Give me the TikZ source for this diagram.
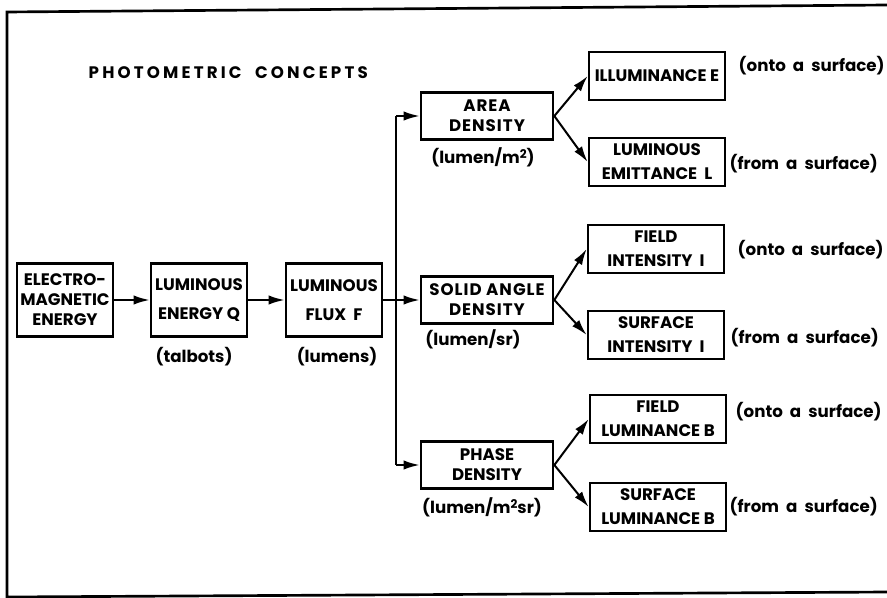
\documentclass[tikz,border=0pt]{standalone}
\usepackage{fontspec}
\setsansfont{Poppins}
\usetikzlibrary{arrows.meta, positioning, calc}

\newcommand{\sqd}{\raisebox{0.55ex}{\fontsize{9}{9}\selectfont 2}}

\begin{document}
\begin{tikzpicture}[
    x=0.75pt, y=-0.75pt,
    txt/.style={font=\sffamily\bfseries\fontsize{12.5}{15}\selectfont},
    block/.style={draw=black, line width=2pt, align=center, inner sep=1pt, txt},
    srcbox/.style={block, minimum width=72pt, minimum height=55pt},
    midbox/.style={block, minimum width=99pt, minimum height=35pt},
    endbox/.style={block, minimum width=102pt, minimum height=36pt},
    unit/.style={txt},
    note/.style={txt, anchor=west},
    wire/.style={line width=1.5pt},
    arr/.style={wire, -{Latex[length=12pt, width=7pt]}},
    frame/.style={line width=2pt}
]
\useasboundingbox (0,0) rectangle (887,598);

% Outer frame
\draw[frame] (887,5) -- (7,12) -- (7,597) -- (887,592);

\node[txt, anchor=west] (title) at (84,73) {\addfontfeatures{LetterSpace=19}PHOTOMETRIC\ \ CONCEPTS};

% Left: energy to flux
\node[srcbox] (em) at (65,300) {ELECTRO-\\MAGNETIC\\ENERGY};
\node[srcbox] (energy) at (199,300) {LUMINOUS\\[7pt]ENERGY Q};
\node[srcbox] (flux) at (334,300) {LUMINOUS\\[7pt]FLUX\ \ F};

\node[unit] (talbots) at (194,357) {(talbots)};
\node[unit] (lumens) at (337,357) {(lumens)};

\draw[arr] (em) -- (energy);
\draw[arr] (energy) -- (flux);

% Middle: densities
\node[midbox] (area) at (487,116) {\addfontfeatures{LetterSpace=6}AREA\\\addfontfeatures{LetterSpace=6}DENSITY};
\node[midbox] (solid) at (487,300) {\addfontfeatures{LetterSpace=6}SOLID ANGLE\\\addfontfeatures{LetterSpace=6}DENSITY};
\node[midbox] (phase) at (487,465) {PHASE\\DENSITY};

\node[unit] (areaunit) at (483,157) {(lumen/m\sqd)};
\node[unit] (solidunit) at (473,339) {(lumen/sr)};
\node[unit] (phaseunit) at (482,507) {(lumen/m\sqd sr)};

\coordinate (bustop) at (396,116);
\coordinate (busbot) at (396,465);
\draw[wire] (bustop) -- (busbot);
\draw[arr] (bustop) -- (area);
\draw[arr] (busbot) -- (phase);
\draw[arr] (flux) -- (solid);

% Right: quantities
\node[endbox] (illum) at (657,76) {ILLUMINANCE E};
\node[endbox] (emit) at (657,162) {LUMINOUS\\[3pt]EMITTANCE\ \ L};
\node[endbox] (fint) at (656,249) {FIELD\\[3pt]INTENSITY\ \ I};
\node[endbox] (sint) at (656,335) {SURFACE\\[3pt]INTENSITY\ \ I};
\node[endbox] (flum) at (658,419) {FIELD\\[3pt]LUMINANCE B};
\node[endbox] (slum) at (658,507) {SURFACE\\[3pt]LUMINANCE B};

\draw[arr] (area.east) -- (illum.west);
\draw[arr] (area.east) -- (emit.west);
\draw[arr] (solid.east) -- (fint.west);
\draw[arr] (solid.east) -- (sint.west);
\draw[arr] (phase.east) -- (flum.west);
\draw[arr] (phase.east) -- (slum.west);

% Side notes
\node[note] (n1) at (734,66) {(onto\ \ a\ \ surface)};
\node[note] (n2) at (725,164) {(from\ \ a\ \ surface)};
\node[note] (n3) at (733,250) {(onto\ \ a\ \ surface)};
\node[note] (n4) at (726,338) {(from\ \ a\ \ surface)};
\node[note] (n5) at (731,412) {(onto\ \ a\ \ surface)};
\node[note] (n6) at (725,507) {(from\ \ a\ \ surface)};

\end{tikzpicture}
\end{document}
